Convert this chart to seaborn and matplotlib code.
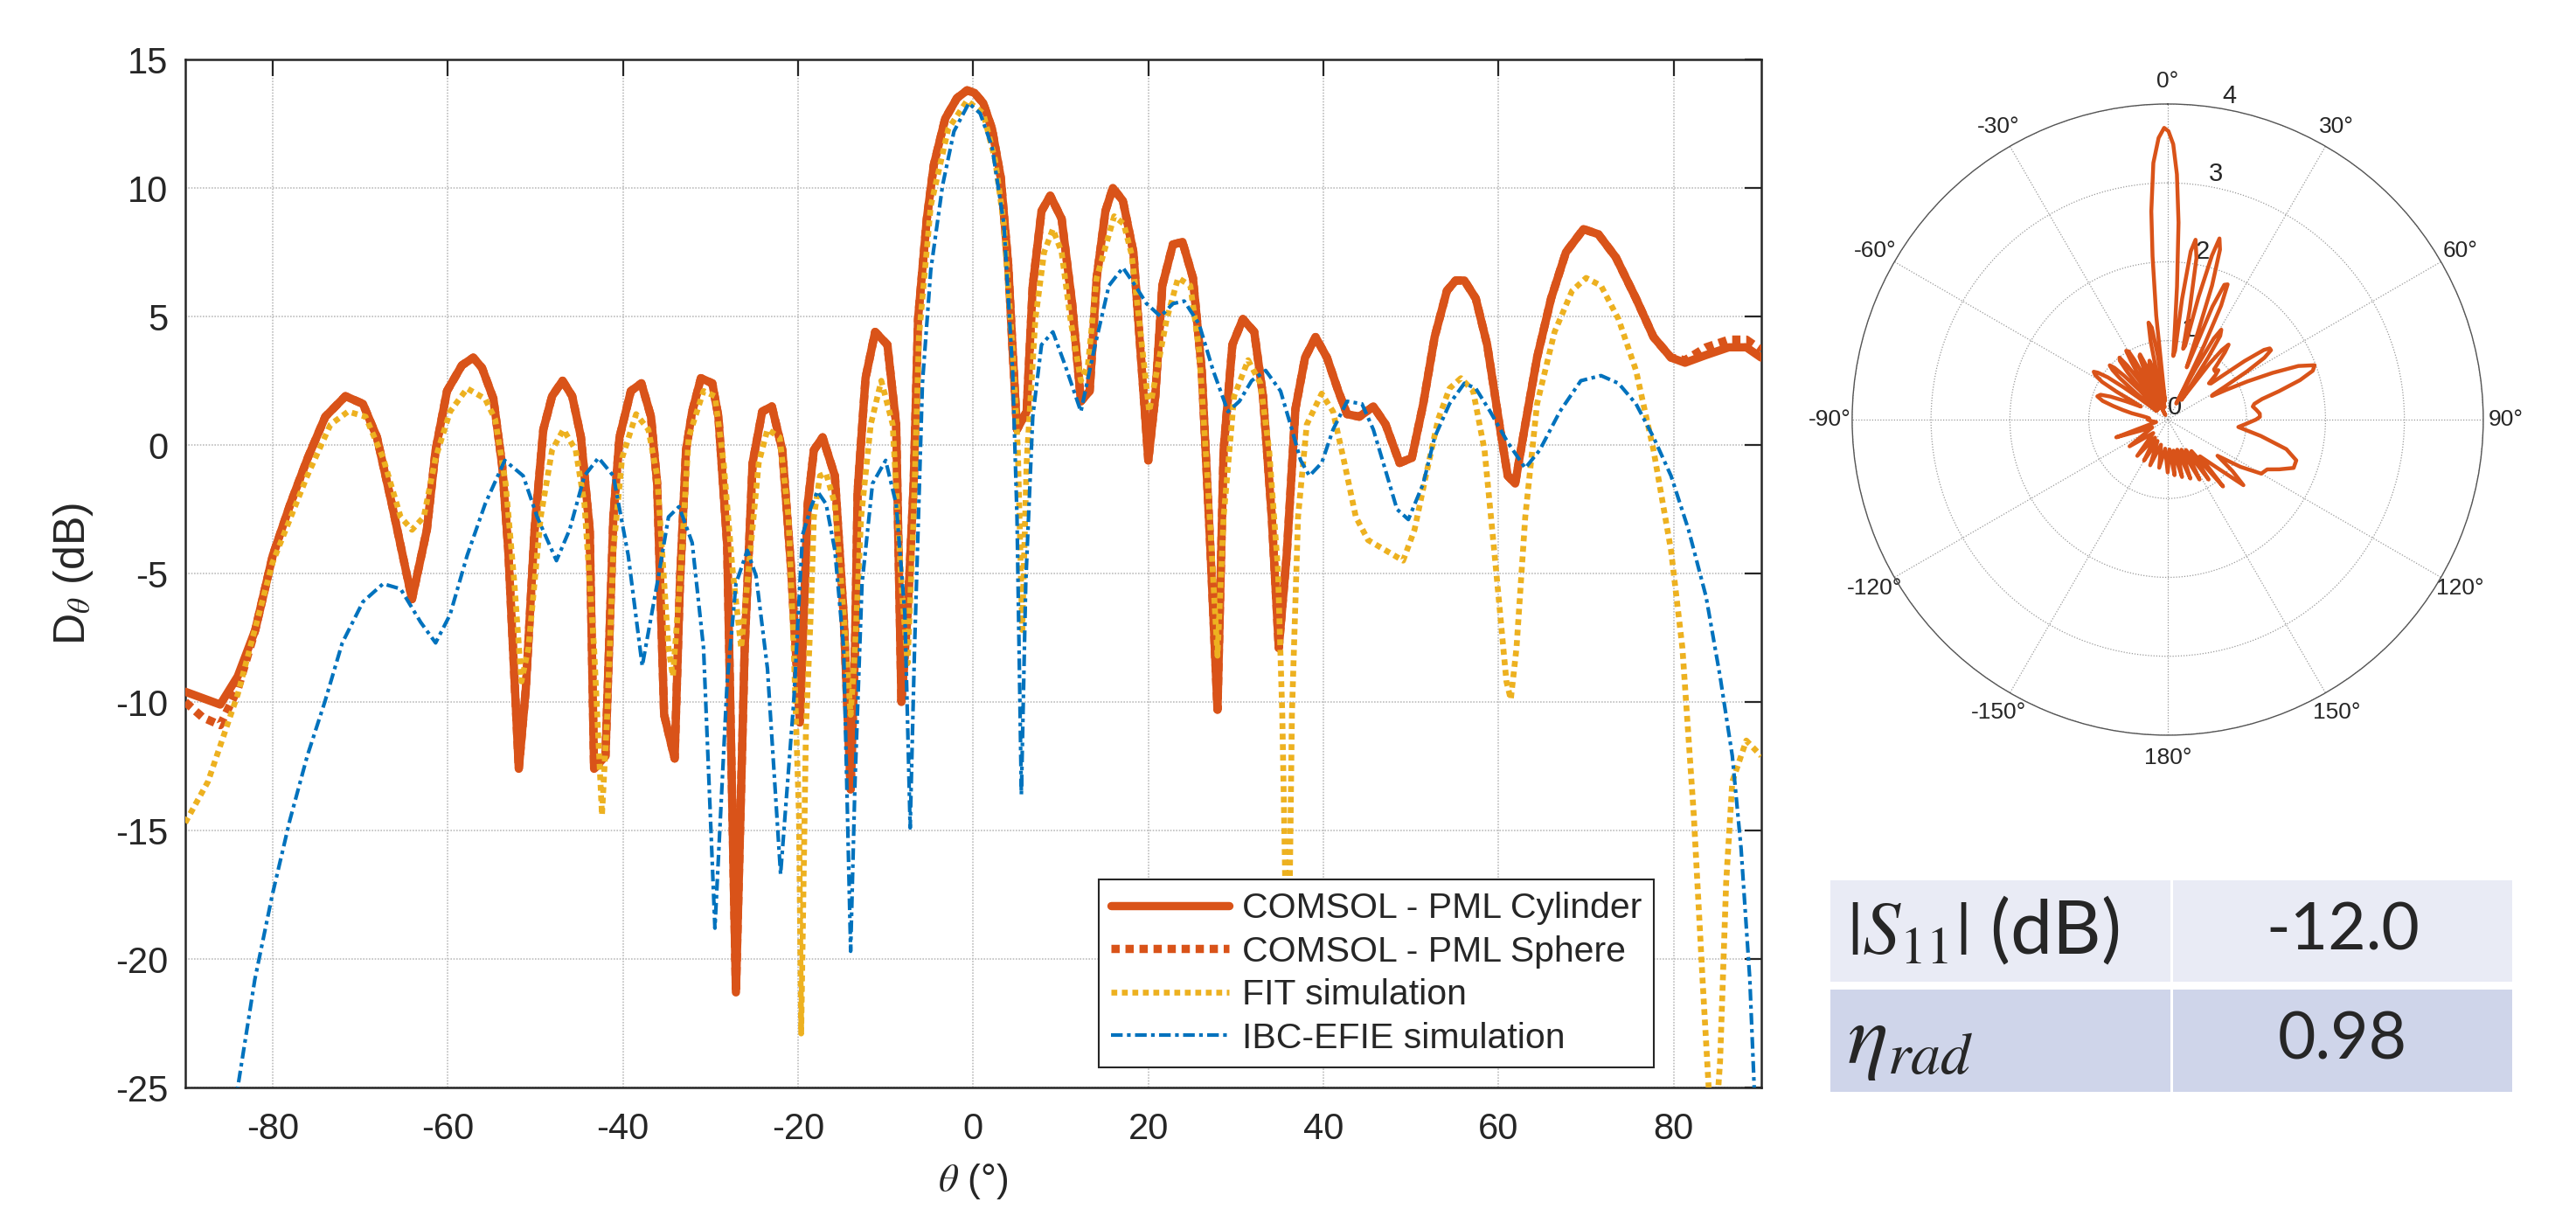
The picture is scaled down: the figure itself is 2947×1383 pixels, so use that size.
import numpy as np
import matplotlib
matplotlib.use('Agg')
from matplotlib import pyplot as plt
from matplotlib.patches import Rectangle
import seaborn as sns

### data ###

# COMSOL - PML Cylinder
cyl_theta = [-90.0, -88.0, -86.0, -84.0, -82.0, -80.0, -78.0, -76.0, -74.0, -71.7, -69.7, -68.1, -66.4,
             -64.1, -62.4, -61.4, -60.1, -58.4, -57.1, -56.1, -54.8, -53.8, -53.1, -51.9, -51.1, -50.1,
             -49.1, -48.1, -46.9, -45.8, -44.8, -43.8, -43.3, -42.0, -41.1, -40.4, -39.1, -37.9, -36.8,
             -36.1, -35.3, -34.1, -33.5, -32.8, -32.1, -31.1, -29.8, -29.1, -28.1, -27.1, -26.1, -25.2,
             -24.1, -23.0, -21.8, -20.8, -19.8, -18.9, -18.2, -17.2, -15.8, -14.8, -14.0, -13.5, -13.2,
             -12.3, -11.2, -9.8, -8.8, -8.2, -7.5, -6.8, -6.3, -5.3, -4.5, -3.2, -1.85, -0.7, 0.15, 1.15,
             2.15, 3.15, 4.0, 4.5, 5.0, 6.1, 6.8, 7.8, 8.8, 10.1, 11.3, 12.3, 13.3, 14.1, 15.1, 15.95,
             17.1, 18.3, 19.1, 20.0, 20.8, 21.6, 22.8, 23.9, 25.1, 26.1, 27.1, 27.9, 28.6, 29.6, 30.8,
             32.1, 33.1, 34.1, 34.9, 35.8, 36.8, 37.9, 39.1, 40.4, 41.7, 42.7, 44.1, 45.7, 47.1, 48.7,
             50.1, 51.4, 52.7, 54.1, 55.1, 56.1, 57.4, 58.7, 60.1, 61.05, 61.9, 63.05, 64.4, 66.0, 67.7,
             69.7, 71.4, 73.4, 75.7, 77.7, 79.7, 81.3, 83.7, 86.3, 88.3, 90.0]
cyl_d = [-9.6, -9.85, -10.1, -9.0, -7.2, -4.3, -2.3, -0.5, 1.1, 1.9, 1.6, 0.3, -2.3,
         -6.0, -3.3, -0.2, 2.1, 3.1, 3.4, 3.0, 1.8, -0.8, -4.1, -12.6, -9.5, -3.3,
         0.6, 1.9, 2.5, 1.9, 0.3, -3.3, -12.6, -12.1, -2.8, 0.3, 2.1, 2.4, 1.1,
         -1.5, -10.5, -12.2, -5.4, -0.2, 1.3, 2.6, 2.4, 1.1, -3.9, -21.3, -7.9, -0.7,
         1.3, 1.5, -0.2, -4.8, -10.8, -2.3, -0.2, 0.3, -1.2, -6.6, -13.4, -7.9, -1.8,
         2.6, 4.4, 3.9, 0.8, -10.0, -6.6, -1.5, 4.9, 8.8, 10.9, 12.7, 13.5, 13.8, 13.7, 13.3,
         12.3, 10.4, 7.0, 3.7, 0.6, 1.3, 6.2, 9.1, 9.7, 8.8, 5.5, 1.7, 2.1, 6.5, 9.1, 10.0,
         9.5, 7.5, 3.7, -0.6, 1.9, 6.2, 7.8, 7.9, 6.5, 2.9, -4.1, -10.3, -0.2, 3.9, 4.9,
         4.4, 1.9, -2.8, -7.9, -4.3, 1.4, 3.4, 4.2, 3.4, 2.1, 1.2, 1.1, 1.5, 0.8, -0.7,
         -0.5, 1.6, 4.2, 6.0, 6.4, 6.4, 5.7, 3.9, 0.8, -1.2, -1.5, 0.8, 3.4, 5.7, 7.5,
         8.4, 8.2, 7.3, 5.7, 4.2, 3.4, 3.2, 3.5, 3.8, 3.8, 3.4]

# COMSOL - PML Sphere: follows the cylinder except near the two ends
sph_theta_left = [-90.0, -88.0, -86.0, -84.0]
sph_d_left = [-10.0, -10.6, -10.9, -9.5]
sph_theta_right = [81.3, 83.7, 86.3, 88.3, 90.0]
sph_d_right = [3.3, 3.8, 4.1, 4.1, 3.7]

# FIT simulation
fit_theta = [-90.0, -87.4, -84.0, -80.05, -76.06, -73.4, -71.4, -69.4, -67.4, -65.4, -64.1, -62.75,
             -61.4, -59.75, -57.8, -55.75, -54.6, -53.4, -52.4, -51.6, -50.8, -49.4, -48.1, -46.8,
             -45.4, -44.4, -43.3, -42.4, -41.8, -41.1, -40.1, -38.5, -37.1, -36.1, -34.8, -34.3,
             -33.5, -32.5, -30.8, -29.5, -28.5, -27.5, -26.5, -25.5, -24.5, -23.5, -22.1, -21.1,
             -20.5, -19.9, -19.65, -19.1, -18.5, -18.2, -17.5, -16.8, -15.8, -14.8, -14.0, -13.5,
             -12.8, -11.7, -10.5, -9.2, -8.2, -7.5, -6.8, -6.2, -4.85, -2.85, -0.7, 1.15, 2.5, 3.5,
             4.5, 5.1, 5.6, 6.1, 7.1, 8.1, 9.1, 10.1, 11.1, 12.3, 13.1, 14.1, 16.1, 17.2, 18.1,
             19.1, 20.1, 22.1, 23.4, 24.8, 25.8, 26.8, 27.9, 28.6, 29.8, 31.4, 32.8, 33.8, 34.8,
             35.3, 35.6, 35.9, 36.2, 36.4, 37.1, 38.1, 39.8, 41.1, 42.4, 43.7, 45.1, 47.1, 49.1,
             50.4, 51.7, 53.1, 54.4, 55.7, 57.1, 58.4, 59.7, 60.9, 61.4, 62.05, 63.05, 64.4, 66.4,
             68.4, 70.0, 71.7, 73.7, 75.7, 77.7, 79.7, 81.0, 82.3, 83.3, 84.0, 84.6, 85.3, 86.0,
             86.7, 88.3, 90.0]
fit_d = [-14.7, -13.1, -9.7, -4.6, -1.2, 0.8, 1.3, 1.1, -0.5, -2.8, -3.3, -2.8,
         -0.5, 1.3, 2.2, 1.8, 1.0, -1.5, -5.4, -9.2, -7.9, -2.8, -0.2, 0.6,
         -0.2, -2.3, -7.9, -14.4, -10.5, -4.1, -0.5, 1.2, 0.6, -1.2, -7.9, -9.0,
         -5.4, 0.3, 2.1, 1.9, -0.7, -4.8, -7.9, -4.3, -0.7, 0.6, 0.3, -2.8,
         -7.9, -14.4, -22.9, -11.0, -6.1, -2.8, -1.2, -1.1, -2.3, -6.6, -10.5, -7.9,
         -2.8, 0.8, 2.5, 0.8, -5.4, -8.5, -2.8, 4.2, 9.3, 12.3, 13.4, 12.9, 11.1, 8.6,
         3.7, -0.2, -7.2, -0.7, 4.9, 7.5, 8.4, 7.5, 4.9, 2.5, 3.1, 6.5, 8.9, 8.6, 7.4,
         4.4, 1.3, 4.9, 6.5, 6.2, 3.7, -1.5, -8.2, -2.8, 1.9, 3.3, 2.4, -0.2, -4.8,
         -10.5, -16.2, -24.0, -16.0, -10.5, -2.8, 0.8, 2.0, 1.3, -0.7, -2.8, -3.7, -4.1, -4.5,
         -3.3, -1.2, 1.0, 2.2, 2.6, 2.1, -0.2, -4.8, -9.2, -9.9, -7.9, -2.8, 1.6, 4.4,
         6.0, 6.5, 6.2, 4.9, 2.9, -0.2, -4.1, -7.9, -14.4, -20.8, -25.0, -27.5, -24.0, -17.0,
         -13.1, -11.5, -12.1]

# IBC-EFIE simulation
ibc_theta = [-85.5, -84.0, -82.05, -80.05, -78.05, -76.06, -74.06, -72.06, -69.7, -67.4, -65.4, -63.1,
             -61.4, -59.75, -57.8, -55.75, -53.5, -51.4, -49.8, -47.6, -46.1, -44.4, -42.8, -41.1,
             -39.4, -37.8, -36.1, -34.8, -33.6, -32.1, -30.8, -29.5, -28.1, -27.1, -25.8, -24.8,
             -23.5, -22.0, -20.5, -19.5, -18.5, -17.8, -16.8, -15.8, -14.8, -14.0, -13.5, -12.7,
             -11.5, -10.0, -8.8, -7.8, -7.2, -6.7, -5.8, -4.85, -3.5, -2.2, -0.5, 0.8, 2.15, 3.5,
             4.5, 5.0, 5.5, 6.0, 6.8, 7.8, 9.1, 10.5, 12.3, 13.8, 15.5, 17.1, 18.5, 19.8, 21.4,
             22.8, 24.1, 25.8, 27.4, 29.1, 30.4, 31.8, 33.4, 35.1, 36.4, 37.4, 38.4, 39.8, 41.1,
             42.7, 44.4, 45.7, 47.1, 48.4, 49.7, 51.4, 52.7, 54.4, 56.1, 57.4, 59.05, 61.05, 63.05,
             64.7, 67.0, 69.4, 71.7, 73.7, 75.7, 77.7, 79.7, 81.7, 83.7, 85.3, 86.7, 87.7, 88.7,
             89.2, 89.6]
ibc_d = [-28.5, -25.0, -20.8, -17.5, -14.6, -12.1, -10.0, -7.7, -6.1, -5.4, -5.6, -6.9,
         -7.7, -6.6, -4.3, -2.3, -0.6, -1.2, -2.8, -4.5, -3.3, -1.2, -0.5, -1.2,
         -4.3, -8.6, -5.4, -2.8, -2.4, -3.8, -7.9, -18.8, -9.2, -5.4, -4.1, -5.1,
         -8.7, -16.7, -10.0, -3.5, -2.4, -1.8, -2.3, -4.1, -7.9, -19.7, -13.1, -5.4,
         -1.5, -0.6, -2.3, -6.6, -14.9, -7.9, 2.4, 6.8, 10.1, 12.2, 13.3, 12.9, 11.6, 8.6,
         2.9, -2.8, -13.6, -5.4, 1.1, 3.9, 4.4, 3.1, 1.3, 3.7, 6.2, 6.9, 6.2, 5.5, 5.0,
         5.5, 5.6, 4.7, 2.9, 1.3, 1.7, 2.5, 2.9, 2.1, 0.6, -0.6, -1.2, -0.7, 0.6,
         1.7, 1.6, 0.6, -1.0, -2.5, -2.9, -1.5, 0.3, 1.6, 2.4, 2.2, 1.3, 0.1, -0.9,
         -0.2, 1.3, 2.5, 2.7, 2.4, 1.6, 0.3, -1.2, -3.3, -5.9, -9.0, -12.1, -15.7, -20.8,
         -25.0, -28.0]

# polar inset: back hemisphere (90..270 deg, clockwise), linear field scale
back_angle = [90, 93, 96, 100, 104, 107.6, 111, 114, 116.6, 120, 123, 126, 128.5, 130.9, 134, 138.7,
              140.4, 143, 145.7, 149, 152, 155.5, 159, 162.5, 166, 169.5, 173, 176.5, 180, 185, 190,
              195, 201, 205.5, 210, 215, 220, 227, 235, 243, 251, 258, 264, 270]
back_r = [1.12, 1.0, 0.9, 1.2, 1.55, 1.71, 1.71, 1.55, 1.41, 1.37, 1.1, 0.78, 1.05, 1.27, 0.9, 0.62,
          1.10, 0.5, 0.92, 0.45, 0.86, 0.42, 0.8, 0.4, 0.75, 0.4, 0.71, 0.38, 0.67, 0.37, 0.62,
          0.33, 0.62, 0.30, 0.60, 0.28, 0.60, 0.25, 0.59, 0.22, 0.69, 0.15, 0.2, 0.25]
# the front half of the inset is the cylinder cut shown as linear field, r = k * 10^(D/20)
POLAR_K = 0.755

table_rows = [r'$|S_{11}|$ (dB)', r'$\eta_{rad}$']
table_vals = ['-12.0', '0.98']

ORANGE = '#D95319'
YELLOW = '#EDB120'
BLUE = '#0072BD'
AXC = '#262626'

######### figure ################################################################

sns.set_style('white')
plt.rcParams['font.family'] = ['Liberation Sans', 'DejaVu Sans']
plt.rcParams['axes.unicode_minus'] = False

fig = plt.figure(figsize=(29.47, 13.83), dpi=100)
ax = fig.add_axes([0.0719, 0.1005, 0.6118, 0.8503])

sph_theta = sph_theta_left + [t for t in cyl_theta if -84 < t < 81.3] + sph_theta_right
sph_d = sph_d_left + [d for t, d in zip(cyl_theta, cyl_d) if -84 < t < 81.3] + sph_d_right

sns.lineplot(x=cyl_theta, y=cyl_d, ax=ax, color=ORANGE, lw=6.8, sort=False,
             label='COMSOL - PML Cylinder', zorder=3)
sns.lineplot(x=sph_theta, y=sph_d, ax=ax, color=ORANGE, lw=6.8, sort=False, linestyle=(0, (1, 0.7)),
             dash_capstyle='butt', label='COMSOL - PML Sphere', zorder=4)
sns.lineplot(x=fit_theta, y=fit_d, ax=ax, color=YELLOW, lw=4.8, sort=False, linestyle=(0, (1, 0.8)),
             dash_capstyle='butt', label='FIT simulation', zorder=5)
sns.lineplot(x=ibc_theta, y=ibc_d, ax=ax, color=BLUE, lw=3.0, sort=False,
             linestyle=(0, (3.2, 1.2, 1.0, 1.2)), dash_capstyle='butt',
             label='IBC-EFIE simulation', zorder=6)

ax.set_xlim(-90, 90)
ax.set_ylim(-25, 15)
ax.set_xticks(range(-80, 81, 20))
ax.set_yticks(range(-25, 16, 5))
ax.grid(True, color='#bdbdbd', lw=1.2, ls=(0, (1, 1)))
ax.tick_params(direction='in', length=13.5, width=1.6, colors=AXC, labelsize=30,
               top=True, right=True)
ax.tick_params(axis='x', pad=20)
ax.tick_params(axis='y', pad=14)
for sp in ax.spines.values():
    sp.set_color(AXC)
    sp.set_linewidth(1.8)

ax.set_xlabel(r'$\theta$ (°)', fontsize=32, color=AXC, math_fontfamily='stix')
ax.set_ylabel(r'D$_\theta$ (dB)', fontsize=36, color=AXC, math_fontfamily='stix')
ax.xaxis.set_label_coords(0.5, -0.072)
ax.yaxis.set_label_coords(-0.057, 0.5)

handles, labels = ax.get_legend_handles_labels()
leg = ax.legend(handles, labels, loc='lower right', bbox_to_anchor=(0.932, 0.0196),
                borderaxespad=0, fontsize=29.5, frameon=True, fancybox=False, framealpha=1,
                edgecolor=AXC, handlelength=3.3, handletextpad=0.35, labelspacing=0.28,
                borderpad=0.35)
leg.get_frame().set_linewidth(1.5)

######### polar inset ###########################################################

pax = fig.add_axes([0.7190, 0.3919, 0.2450, 0.5221], projection='polar')
pax.set_theta_zero_location('N')
pax.set_theta_direction(-1)

front_angle = np.deg2rad(cyl_theta)
front_r = POLAR_K * 10 ** (np.array(cyl_d) / 20)
pol_angle = np.concatenate([front_angle, np.deg2rad(back_angle)])
pol_r = np.concatenate([front_r, back_r])
sns.lineplot(x=pol_angle, y=pol_r, ax=pax, color=ORANGE, lw=3.2, sort=False, legend=False)
pax.set_xlabel('')
pax.set_ylabel('')

pax.set_rlim(0, 4)
pax.set_rticks([0, 1, 2, 3, 4])
pax.set_yticklabels(['0', '1', '2', '3', '4'])
pax.set_rlabel_position(10)
pax.set_thetagrids(range(0, 360, 30),
                   ['0°', '30°', '60°', '90°', '120°', '150°', '180°',
                    '-150°', '-120°', '-90°', '-60°', '-30°'])
pax.tick_params(axis='x', labelsize=19, colors=AXC, pad=8)
pax.tick_params(axis='y', labelsize=21, colors=AXC)
pax.grid(True, color='#9a9a9a', lw=0.9, ls=(0, (1, 1.5)))
pax.spines['polar'].set_color('#555555')
pax.spines['polar'].set_linewidth(1.0)

######### table #################################################################

tax = fig.add_axes([0, 0, 1, 1], zorder=-1)
tax.set_xlim(0, 2947)
tax.set_ylim(1383, 0)
tax.axis('off')

row_top = [1007, 1132]
row_h = [116, 117]
row_col = ['#E9EBF5', '#CFD5EA']
label_size = [62, 70]
for i in range(2):
    tax.add_patch(Rectangle((2094, row_top[i]), 389, row_h[i], color=row_col[i], lw=0))
    tax.add_patch(Rectangle((2486, row_top[i]), 388, row_h[i], color=row_col[i], lw=0))
    yc = row_top[i] + row_h[i] / 2
    tax.text(2113, yc + 4 * i, table_rows[i], fontsize=label_size[i], family=['Lato', 'DejaVu Sans'],
             math_fontfamily='stix', ha='left', va='center')
    tax.text(2680, yc, table_vals[i], fontsize=54, family=['Lato', 'DejaVu Sans'],
             ha='center', va='center')

plt.savefig('out.png', dpi=100)
